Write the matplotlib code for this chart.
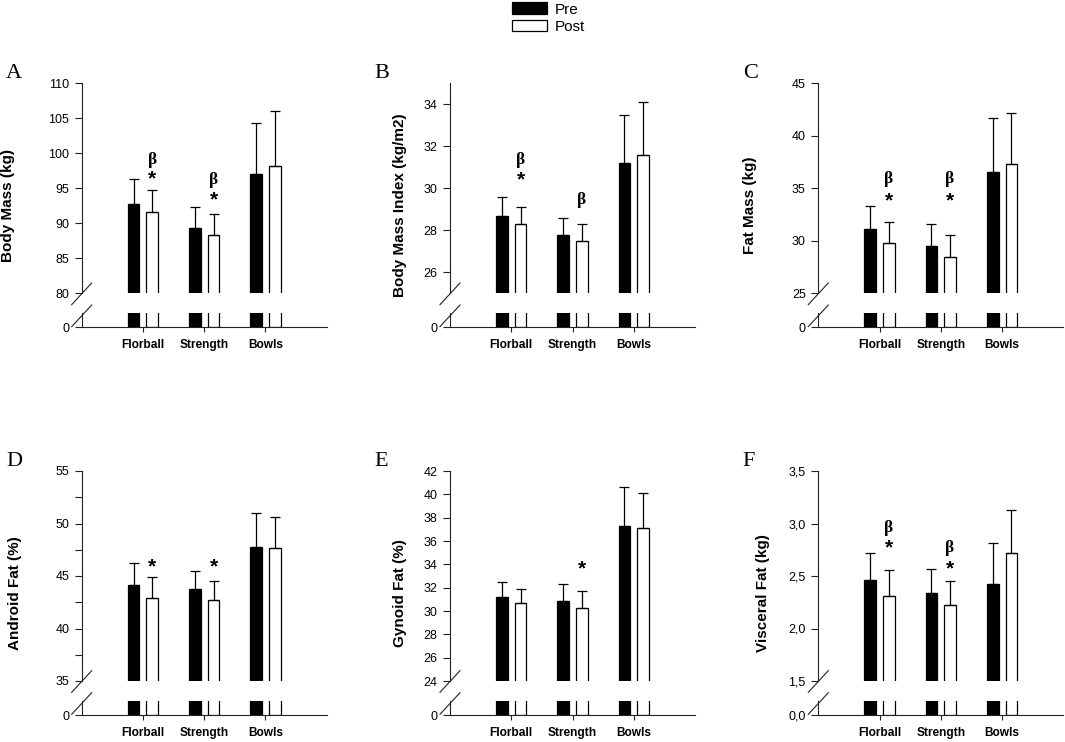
import numpy as np
import matplotlib.pyplot as plt
from matplotlib.lines import Line2D

plt.rcParams['font.family'] = ['Liberation Sans', 'DejaVu Sans']

groups = ["Florball", "Strength", "Bowls"]

# A - body mass (kg)
body_mass_pre = [92.8, 89.4, 97.0]
body_mass_pre_sd = [3.5, 3.0, 7.4]
body_mass_post = [91.6, 88.3, 98.2]
body_mass_post_sd = [3.1, 3.0, 7.8]

# B - body mass index
bmi_pre = [28.7, 27.8, 31.2]
bmi_pre_sd = [0.9, 0.8, 2.3]
bmi_post = [28.3, 27.5, 31.6]
bmi_post_sd = [0.8, 0.8, 2.5]

# C - fat mass (kg)
fat_mass_pre = [31.1, 29.5, 36.6]
fat_mass_pre_sd = [2.2, 2.1, 5.1]
fat_mass_post = [29.8, 28.5, 37.3]
fat_mass_post_sd = [2.0, 2.1, 4.9]

# D - android fat (%)
android_pre = [44.1, 43.8, 47.8]
android_pre_sd = [2.1, 1.7, 3.2]
android_post = [42.9, 42.7, 47.7]
android_post_sd = [2.0, 1.8, 2.9]

# E - gynoid fat (%)
gynoid_pre = [31.2, 30.9, 37.3]
gynoid_pre_sd = [1.3, 1.4, 3.3]
gynoid_post = [30.7, 30.3, 37.1]
gynoid_post_sd = [1.2, 1.4, 3.0]

# F - visceral fat (kg)
visceral_pre = [2.46, 2.34, 2.42]
visceral_pre_sd = [0.26, 0.23, 0.39]
visceral_post = [2.31, 2.22, 2.72]
visceral_post_sd = [0.25, 0.23, 0.41]

# significance marks: (group index, symbol, y value)
marks_a = [(0, 'β', 99.1), (0, '*', 96.3), (1, 'β', 96.2), (1, '*', 93.4)]
marks_b = [(0, 'β', 31.35), (0, '*', 30.4), (1, 'β', 29.45)]
marks_c = [(0, 'β', 35.9), (0, '*', 33.8), (1, 'β', 35.9), (1, '*', 33.8)]
marks_d = [(0, '*', 45.9), (1, '*', 45.9)]
marks_e = [(1, '*', 33.6)]
marks_f = [(0, 'β', 2.96), (0, '*', 2.77), (1, 'β', 2.77), (1, '*', 2.57)]

ticks_a = [80, 85, 90, 95, 100, 105, 110]
ticks_b = [26, 28, 30, 32, 34]
ticks_c = [25, 30, 35, 40, 45]
ticks_d = [35, 40, 45, 50, 55]
ticks_e = [24, 26, 28, 30, 32, 34, 36, 38, 40, 42]
ticks_f = [1.5, 2.0, 2.5, 3.0, 3.5]

W, H = 1065, 742
COL_LEFT = [81.7, 450, 818.3]
ROW_TOP = [83.3, 471]
AX_W = 245
UPPER_H = 210
LOWER_OFF = 230
LOWER_H = 14
BAR_W = 0.19
OFF = 0.152
LINE = '#222222'

fig = plt.figure(figsize=(W / 100, H / 100), dpi=100)


def px_axes(left, top, width, height):
    return fig.add_axes([left / W, 1 - (top + height) / H, width / W, height / H])


def draw_panel(letter, col, row, pre, pre_sd, post, post_sd, ylim, yticks,
               ylabel, label_off, marks, comma=False, minor=None):
    left = COL_LEFT[col]
    top = ROW_TOP[row]
    x = np.arange(len(groups))
    ax = px_axes(left, top, AX_W, UPPER_H)
    low = px_axes(left, top + LOWER_OFF, AX_W, LOWER_H)

    handles = []
    for a in (ax, low):
        b1 = a.bar(x - OFF, pre, BAR_W, color='black', edgecolor='black', lw=0.9)
        b2 = a.bar(x + OFF, post, BAR_W, color='white', edgecolor='black', lw=0.9)
        handles = [b1, b2]
        a.set_xlim(-1, 3)
        for s in ('top', 'right'):
            a.spines[s].set_visible(False)
        for s in ('left', 'bottom'):
            a.spines[s].set_color(LINE)
            a.spines[s].set_linewidth(0.8)

    ax.errorbar(x - OFF, pre, yerr=[np.zeros(len(pre)), pre_sd], fmt='none',
                ecolor='black', elinewidth=0.9, capsize=3.6, capthick=0.9)
    ax.errorbar(x + OFF, post, yerr=[np.zeros(len(post)), post_sd], fmt='none',
                ecolor='black', elinewidth=0.9, capsize=3.6, capthick=0.9)

    ax.set_ylim(*ylim)
    ax.spines['bottom'].set_visible(False)
    ax.set_xticks([])
    ax.set_yticks(yticks)
    if comma:
        ax.set_yticklabels([f"{v:.1f}".replace('.', ',') for v in yticks])
    else:
        ax.set_yticklabels([str(v) for v in yticks])
    if minor is not None:
        ax.set_yticks(minor, minor=True)
    ax.tick_params(axis='y', which='both', direction='out', length=5, width=0.8,
                   color=LINE, labelsize=9, pad=4)

    low.set_ylim(0, 1)
    low.set_yticks([0])
    low.set_yticklabels(['0,0' if comma else '0'])
    low.tick_params(axis='y', direction='out', length=5, width=0.8, color=LINE,
                    labelsize=9, pad=4)
    low.set_xticks(x)
    low.set_xticklabels(groups, fontweight='bold', fontsize=8.6)
    low.tick_params(axis='x', direction='out', length=3.6, width=0.8, color=LINE, pad=5)

    for gi, sym, yv in marks:
        if sym == 'β':
            ax.text(gi + OFF, yv, sym, ha='center', va='center', fontsize=12.5,
                    fontweight='bold', family=['Liberation Serif', 'DejaVu Serif'])
        else:
            ax.text(gi + OFF, yv, sym, ha='center', va='center', fontsize=15,
                    fontweight='bold')

    ax.set_ylabel(ylabel, fontsize=11, fontweight='bold')
    ax.yaxis.set_label_coords(-label_off / AX_W, 1 - 122 / UPPER_H)

    fig.text((left - 75.5) / W, 1 - (top - 9.5) / H, letter, fontsize=16,
             family=['Liberation Serif', 'DejaVu Serif'], ha='left', va='center')

    # axis break marks
    for yc in (top + UPPER_H + 0.5, top + LOWER_OFF + 2.5):
        fig.add_artist(Line2D([(left - 10) / W, (left + 10) / W],
                              [1 - (yc + 10.8) / H, 1 - (yc - 10.8) / H],
                              transform=fig.transFigure, color=LINE, lw=0.8))
    return handles


handles = draw_panel('A', 0, 0, body_mass_pre, body_mass_pre_sd, body_mass_post,
                     body_mass_post_sd, (80, 110), ticks_a, 'Body Mass (kg)', 66.7, marks_a)
draw_panel('B', 1, 0, bmi_pre, bmi_pre_sd, bmi_post, bmi_post_sd, (25, 35), ticks_b,
           'Body Mass Index (kg/m2)', 43, marks_b)
draw_panel('C', 2, 0, fat_mass_pre, fat_mass_pre_sd, fat_mass_post, fat_mass_post_sd,
           (25, 45), ticks_c, 'Fat Mass (kg)', 61, marks_c)
draw_panel('D', 0, 1, android_pre, android_pre_sd, android_post, android_post_sd,
           (35, 55), ticks_d, 'Android Fat (%)', 59.7, marks_d,
           minor=[37.5, 42.5, 47.5, 52.5])
draw_panel('E', 1, 1, gynoid_pre, gynoid_pre_sd, gynoid_post, gynoid_post_sd,
           (24, 42), ticks_e, 'Gynoid Fat (%)', 43, marks_e)
draw_panel('F', 2, 1, visceral_pre, visceral_pre_sd, visceral_post, visceral_post_sd,
           (1.5, 3.5), ticks_f, 'Visceral Fat (kg)', 48.3, marks_f, comma=True)

fig.legend(handles=handles, labels=['Pre', 'Post'], loc='upper left',
           bbox_to_anchor=(511.7 / W, 1 - 2.5 / H), frameon=False, fontsize=11,
           handlelength=2.3, handleheight=0.8, handletextpad=0.5,
           labelspacing=0.2, borderpad=0, borderaxespad=0)

fig.savefig('out.png', dpi=100)
